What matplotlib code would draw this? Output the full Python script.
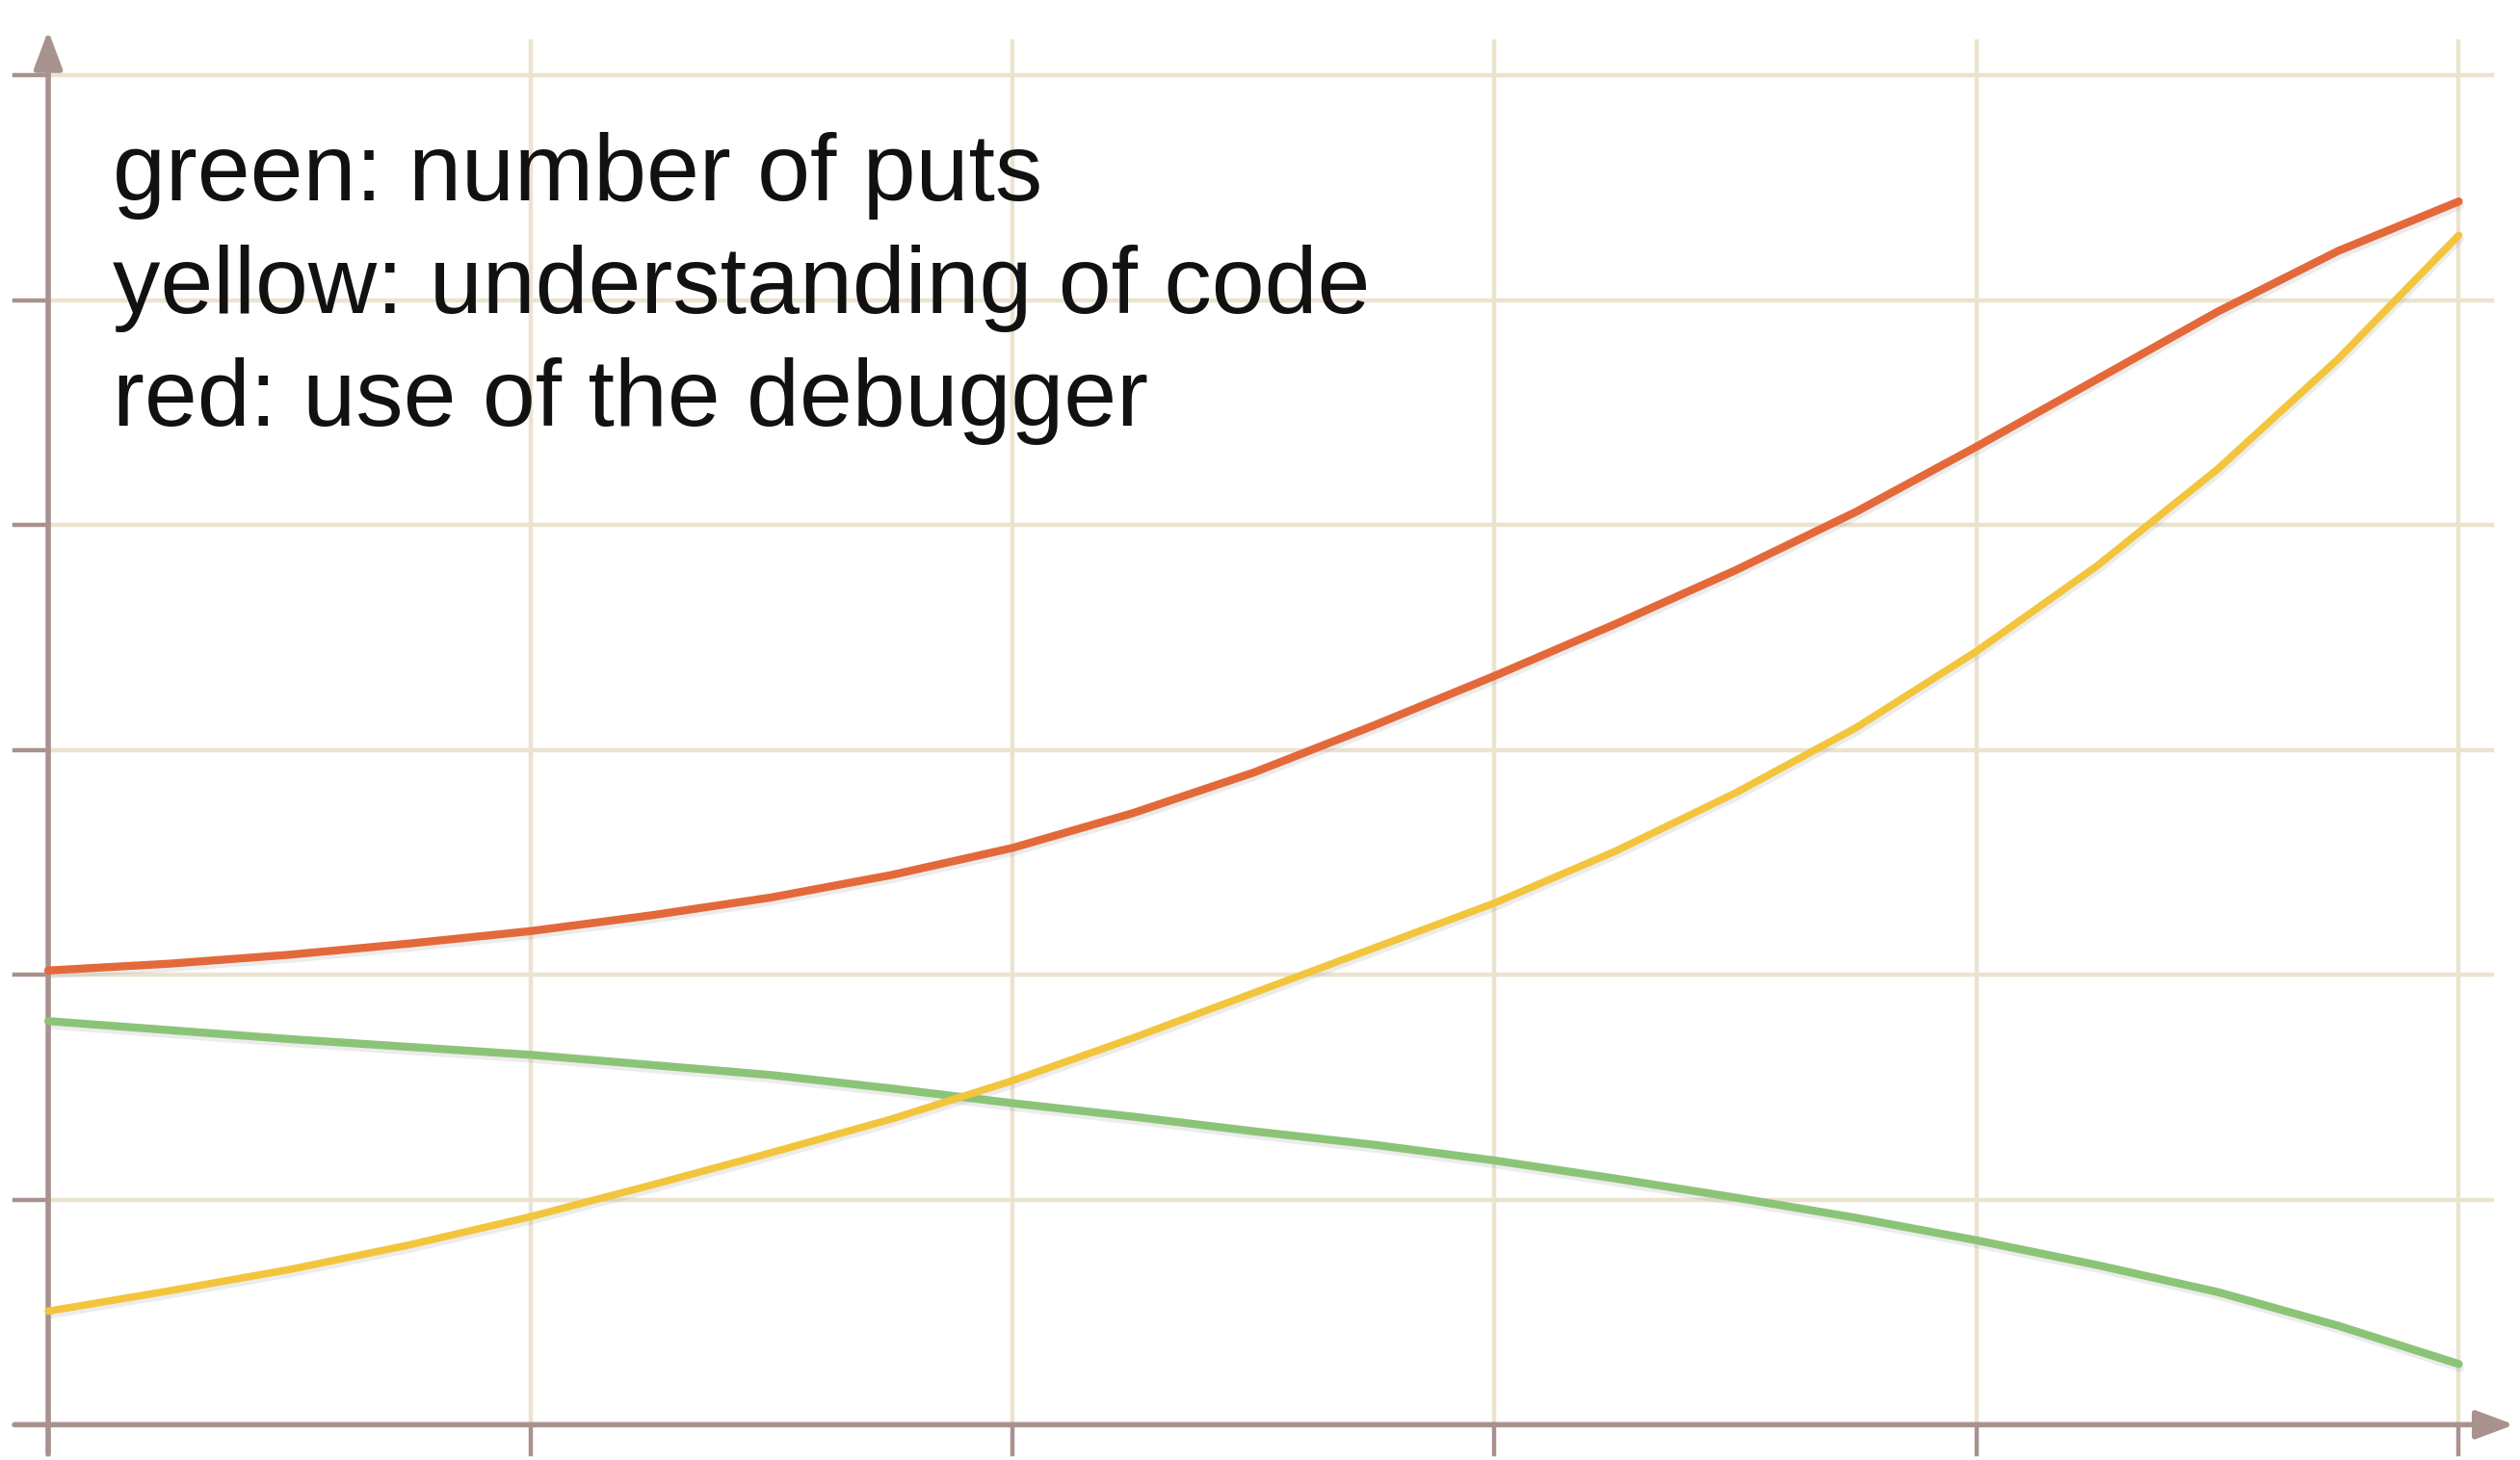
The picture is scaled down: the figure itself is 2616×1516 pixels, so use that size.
import matplotlib.pyplot as plt
import matplotlib.patheffects as pe

# values (gridline units)
x_vals = [0, 0.25, 0.5, 0.75, 1, 1.25, 1.5, 1.75, 2, 2.25, 2.5,
          2.75, 3, 3.25, 3.5, 3.75, 4, 4.25, 4.5, 4.75, 5]
red_vals = [2.02, 2.05, 2.09, 2.14, 2.195, 2.265, 2.345, 2.445, 2.565, 2.72, 2.90,
            3.11, 3.33, 3.56, 3.80, 4.06, 4.35, 4.65, 4.95, 5.22, 5.44]
yellow_vals = [0.505, 0.595, 0.69, 0.80, 0.925, 1.065, 1.21, 1.36, 1.53, 1.72, 1.92,
               2.12, 2.32, 2.55, 2.81, 3.10, 3.44, 3.82, 4.25, 4.74, 5.29]
green_vals = [1.795, 1.755, 1.715, 1.68, 1.645, 1.60, 1.555, 1.495, 1.43, 1.37, 1.305,
              1.245, 1.175, 1.095, 1.01, 0.92, 0.82, 0.71, 0.59, 0.44, 0.27]

grid_x = [0, 1, 2, 3, 4, 5]
grid_y = [1, 2, 3, 4, 5, 6]

labels = ["green: number of puts",
          "yellow: understanding of code",
          "red: use of the debugger"]

AXIS_C = "#a8928e"
GRID_C = "#ece3cf"

fig = plt.figure(figsize=(26.16, 15.16), dpi=100)
ax = fig.add_axes([0, 0, 1, 1])
ax.set_xlim(-0.1, 5.127)
ax.set_ylim(-0.157, 6.336)
ax.axis("off")

# grid
for gy in grid_y:
    ax.plot([0, 5.07], [gy, gy], color=GRID_C, lw=3.2, zorder=1)
    ax.plot([-0.07, 0], [gy, gy], color=AXIS_C, lw=3.2, zorder=2)
for gx in grid_x[1:]:
    ax.plot([gx, gx], [0, 6.15], color=GRID_C, lw=3.2, zorder=1)
for gx in grid_x:
    ax.plot([gx, gx], [-0.13, 0], color=AXIS_C, lw=3.2, zorder=2)

# axes with arrows
arrow = dict(arrowstyle="-|>,head_length=0.8,head_width=0.3", color=AXIS_C,
             lw=4, shrinkA=0, shrinkB=0, mutation_scale=30)
ax.annotate("", xy=(0, 6.2), xytext=(0, -0.13), arrowprops=arrow, zorder=3)
ax.annotate("", xy=(5.115, 0), xytext=(-0.07, 0), arrowprops=arrow, zorder=3)

shadow = [pe.SimpleLineShadow(offset=(1, -3), shadow_color="#9a9a9a", alpha=0.18),
          pe.Normal()]
ax.plot(x_vals, green_vals, color="#8cc477", lw=6, zorder=4,
        solid_capstyle="round", path_effects=shadow)
ax.plot(x_vals, yellow_vals, color="#f2c53d", lw=5.5, zorder=5,
        solid_capstyle="round", path_effects=shadow)
ax.plot(x_vals, red_vals, color="#e4693a", lw=6, zorder=6,
        solid_capstyle="round", path_effects=shadow)

for i, lab in enumerate(labels):
    fig.text(0.0447, 0.8625 - i * 0.0771, lab, fontsize=71,
             family="Liberation Sans", color="#111111", va="baseline", ha="left")

fig.savefig("out.png", dpi=100, facecolor="white")
